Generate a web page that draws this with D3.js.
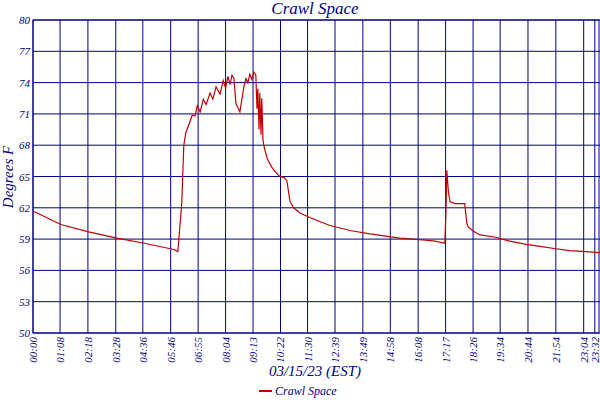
<!DOCTYPE html><html><head><script src="https://cdn.jsdelivr.net/npm/d3@7"></script>
<style>body{margin:0;background:#fff}text{font-family:"Liberation Serif",serif;font-style:italic;fill:#000080}</style></head><body><svg id="c" width="600" height="400"></svg><script>
const tickLabels=["00:00","01:08","02:18","03:28","04:36","05:46","06:55","08:04","09:13","10:22","11:30","12:39","13:49","14:58","16:08","17:17","18:26","19:34","20:44","21:54","23:04","23:32"];
const yTicks=[50,53,56,59,62,65,68,71,74,77,80];
const minutes=[0,70,140,211,280,354,364,374,379,384,394,400,407,413,420,428,435,445,452,460,470,478,484,490,495,500,505,510,520,530,535,540,545,550,555,560,563,565,568,570,573,575,578,580,585,590,600,608,620,631,638,646,655,671,700,746,800,847,922,987,1010,1035,1038,1040,1044,1048,1060,1085,1090,1093,1105,1123,1160,1198,1240,1274,1310,1349,1390,1425];
const temps=[61.7,60.4,59.7,59.1,58.6,58.0,57.8,62.5,68.0,69.2,70.2,70.9,70.8,71.8,71.2,72.4,71.9,73.0,72.4,73.6,72.9,74.2,73.5,74.6,73.8,74.7,74.4,72.0,71.2,73.6,74.4,74.0,74.8,74.3,75.0,74.7,71.5,73.4,69.5,73.0,69.0,72.5,68.5,68.0,67.2,66.6,65.9,65.5,65.0,64.9,64.6,62.6,62.0,61.5,61.0,60.3,59.8,59.5,59.1,58.9,58.8,58.6,62.0,65.6,63.5,62.6,62.4,62.4,60.6,60.2,59.8,59.4,59.2,58.8,58.5,58.3,58.1,57.9,57.8,57.7];
const toMin=s=>{const[h,m]=s.split(":").map(Number);return h*60+m;};
const svg=d3.select("#c"),L=33,R=600,T=20,B=333;
const x=d3.scaleLinear().domain([0,1425]).range([L,R]);
const y=d3.scaleLinear().domain([50,80]).range([B,T]);
const tv=tickLabels.map(toMin);
svg.append("g").selectAll("line").data(tv).join("line").attr("x1",d=>x(d)).attr("x2",d=>x(d)).attr("y1",T).attr("y2",B).attr("stroke","#000080");
svg.append("g").selectAll("line").data(yTicks).join("line").attr("x1",L).attr("x2",R).attr("y1",d=>y(d)).attr("y2",d=>y(d)).attr("stroke","#000080");
svg.append("rect").attr("x",L).attr("y",T).attr("width",R-L-1).attr("height",B-T).attr("fill","none").attr("stroke","#000080");
svg.append("g").selectAll("text").data(yTicks).join("text").attr("x",L-3).attr("y",d=>y(d)+4).attr("text-anchor","end").attr("font-size",11).text(d=>d);
svg.append("g").selectAll("text").data(tickLabels).join("text").attr("transform",(d,i)=>`translate(${x(tv[i])+4},${B+4}) rotate(-90)`).attr("text-anchor","end").attr("font-size",11).text(d=>d);
svg.append("path").datum(minutes.map((m,i)=>[m,temps[i]])).attr("d",d3.line().x(d=>x(d[0])).y(d=>y(d[1]))).attr("fill","none").attr("stroke","#c00000").attr("stroke-width",1.2);
svg.append("text").attr("x",315).attr("y",14).attr("text-anchor","middle").attr("font-size",17).text("Crawl Space");
svg.append("text").attr("transform","translate(13,177) rotate(-90)").attr("text-anchor","middle").attr("font-size",15).text("Degrees F");
svg.append("text").attr("x",315).attr("y",376).attr("text-anchor","middle").attr("font-size",15).text("03/15/23 (EST)");
svg.append("line").attr("x1",259).attr("x2",272).attr("y1",391).attr("y2",391).attr("stroke","#c00000").attr("stroke-width",2);
svg.append("text").attr("x",275).attr("y",395).attr("font-size",12).text("Crawl Space");
</script></body></html>
